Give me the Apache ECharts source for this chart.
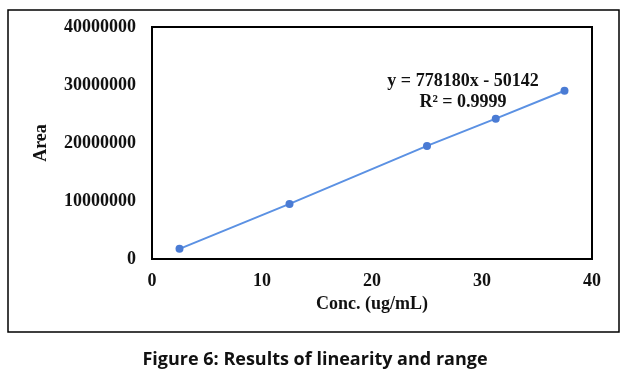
<!DOCTYPE html>
<html><head><meta charset="utf-8">
<script src="https://cdn.jsdelivr.net/npm/echarts@6/dist/echarts.min.js"></script>
<style>html,body{margin:0;padding:0;background:#fff}#c{width:627px;height:386px}</style>
</head><body><div id="c"></div>
<script>
const conc = [2.5, 12.5, 25, 31.25, 37.5];
const area = [1750000, 9500000, 19500000, 24200000, 29000000];
const xTicks = [0, 10, 20, 30, 40];
const yTicks = [0, 10000000, 20000000, 30000000, 40000000];
const equationText = 'y = 778180x - 50142';
const r2Text = 'R² = 0.9999';
const captionText = 'Figure 6: Results of linearity and range';

const chart = echarts.init(document.getElementById('c'), null, {renderer: 'canvas'});
const serif = '"Liberation Serif", "Times New Roman", serif';
chart.setOption({
  animation: false,
  grid: {left: 152, right: 35, top: 27, bottom: 127, show: true, borderColor: '#000', borderWidth: 2, backgroundColor: 'transparent'},
  xAxis: {
    type: 'value', min: xTicks[0], max: xTicks[xTicks.length - 1], interval: xTicks[1] - xTicks[0],
    name: 'Conc. (ug/mL)', nameLocation: 'middle', nameGap: 35,
    nameTextStyle: {fontFamily: serif, fontWeight: 'bold', fontSize: 18, color: '#111'},
    axisLine: {show: true, lineStyle: {color: '#000', width: 2}},
    axisTick: {show: false}, splitLine: {show: false},
    axisLabel: {fontFamily: serif, fontWeight: 'bold', fontSize: 18, color: '#111', margin: 13}
  },
  yAxis: {
    type: 'value', min: yTicks[0], max: yTicks[yTicks.length - 1], interval: yTicks[1] - yTicks[0],
    name: 'Area', nameLocation: 'middle', nameGap: 102,
    nameTextStyle: {fontFamily: serif, fontWeight: 'bold', fontSize: 18, color: '#111'},
    axisLine: {show: true, lineStyle: {color: '#000', width: 2}},
    axisTick: {show: false}, splitLine: {show: false},
    axisLabel: {fontFamily: serif, fontWeight: 'bold', fontSize: 18, color: '#111', margin: 16,
      formatter: v => String(v)}
  },
  series: [{
    type: 'line',
    data: conc.map((c, i) => [c, area[i]]),
    symbol: 'circle', symbolSize: 8,
    lineStyle: {color: '#5b91e3', width: 2},
    itemStyle: {color: '#4a7bd4'}
  }],
  graphic: [
    {type: 'rect', shape: {x: 8, y: 10, width: 611, height: 322}, style: {fill: 'none', stroke: '#000', lineWidth: 1.5}},
    {type: 'text', x: 463, y: 81, style: {text: equationText, font: 'bold 18px ' + serif, fill: '#111', textAlign: 'center', textVerticalAlign: 'middle'}},
    {type: 'text', x: 463, y: 102, style: {text: r2Text, font: 'bold 18px ' + serif, fill: '#111', textAlign: 'center', textVerticalAlign: 'middle'}},
    {type: 'text', x: 315, y: 360, style: {text: captionText, font: 'bold 18px "Open Sans", sans-serif', fill: '#111', textAlign: 'center', textVerticalAlign: 'middle'}}
  ]
});
</script></body></html>
